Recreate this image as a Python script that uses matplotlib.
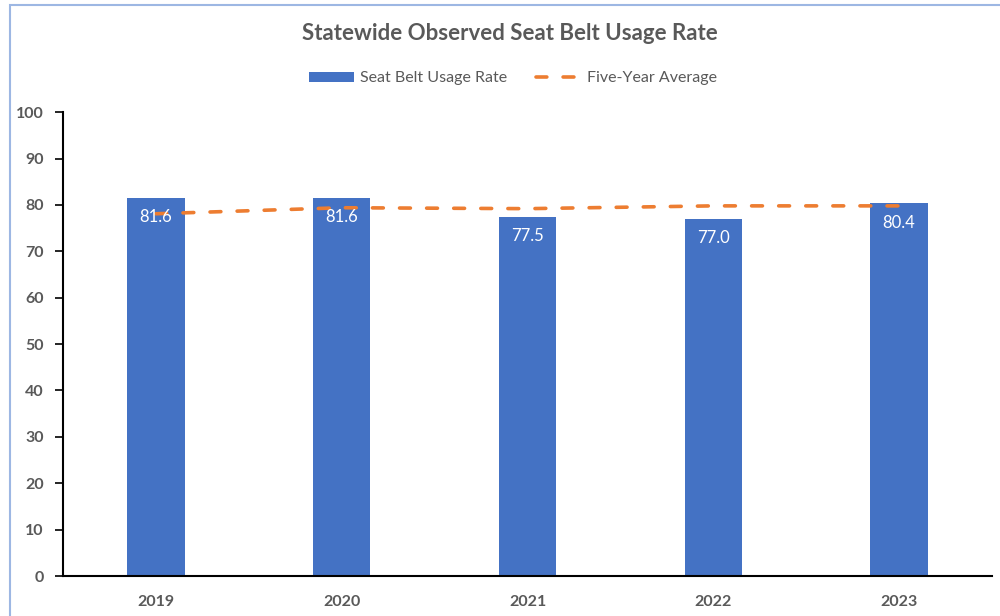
import matplotlib
matplotlib.use("Agg")
import matplotlib.pyplot as plt
from matplotlib.patches import Rectangle

years = ["2019", "2020", "2021", "2022", "2023"]
usage_rate = [81.6, 81.6, 77.5, 77.0, 80.4]
five_year_avg = [78.1, 79.4, 79.2, 79.8, 79.8]
y_ticks = [0, 10, 20, 30, 40, 50, 60, 70, 80, 90, 100]

plt.rcParams['font.family'] = ['Lato', 'DejaVu Sans']

BLUE = "#4472C4"
ORANGE = "#ED7D31"
GREY = "#595959"

fig = plt.figure(figsize=(10, 6.16), dpi=100)
ax = fig.add_axes([0.063, 0.0649, 0.929, 0.753])

x = list(range(len(years)))
bars = ax.bar(x, usage_rate, width=0.31, color=BLUE, label="Seat Belt Usage Rate", zorder=2)
line, = ax.plot(x, five_year_avg, color=ORANGE, linewidth=2.6, linestyle=(0, (3, 4.5)),
                dash_capstyle='round', label="Five-Year Average", zorder=3)

for xi, v in zip(x, usage_rate):
    ax.annotate(f"{v:.1f}", (xi, v), xytext=(0, -14), textcoords="offset points",
                ha="center", va="center", color="white", fontsize=12, zorder=4)

ax.set_xlim(-0.5, len(years) - 0.5)
ax.set_ylim(0, 100)
ax.set_yticks(y_ticks)
ax.set_xticks(x)
ax.set_xticklabels(years)
for lbl in ax.get_yticklabels() + ax.get_xticklabels():
    lbl.set_fontweight("bold")
    lbl.set_color(GREY)
    lbl.set_fontsize(11.5)
ax.tick_params(axis="y", length=6, width=1.2, color="black", pad=8)
ax.tick_params(axis="x", length=0, pad=14)
ax.spines["top"].set_visible(False)
ax.spines["right"].set_visible(False)
ax.spines["left"].set_linewidth(1.5)
ax.spines["bottom"].set_linewidth(1.5)

fig.text(0.51, 0.945, "Statewide Observed Seat Belt Usage Rate", ha="center", va="center",
         fontsize=16, fontweight="bold", color=GREY)

leg = fig.legend([bars, line], ["Seat Belt Usage Rate", "Five-Year Average"], loc="center",
                 bbox_to_anchor=(0.513, 0.873), ncol=2,
                 frameon=False, fontsize=11.5, handlelength=2.8, handleheight=0.6,
                 columnspacing=1.8, handletextpad=0.4)
for t in leg.get_texts():
    t.set_color(GREY)

# outer chart border (partially cropped in reference)
fig.add_artist(Rectangle((0.010, -0.05), 1.2, 1.042, transform=fig.transFigure,
                         fill=False, edgecolor="#9DB7E3", linewidth=1.5))

fig.savefig("out.png", dpi=100)
